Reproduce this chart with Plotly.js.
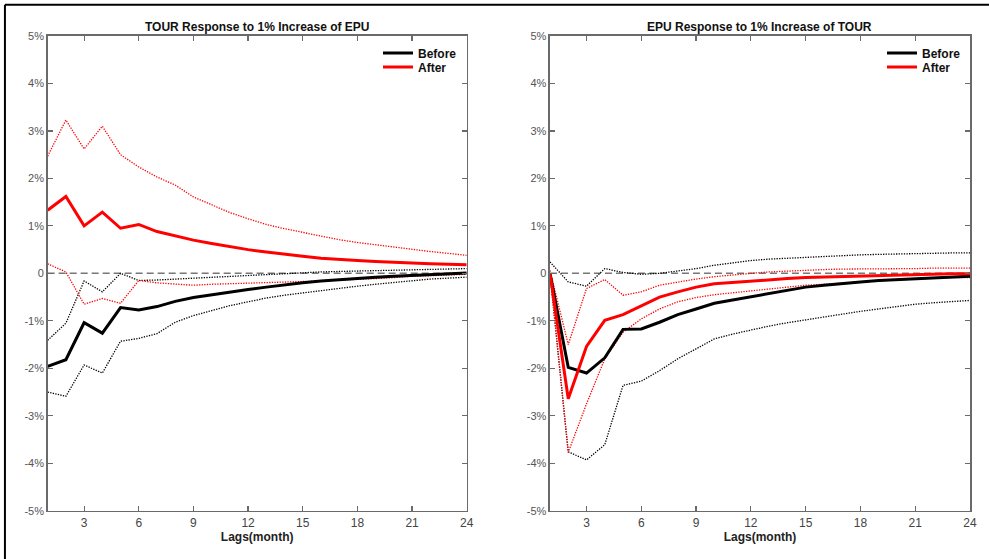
<!DOCTYPE html>
<html>
<head>
<meta charset="utf-8">
<script src="https://cdn.plot.ly/plotly-3.0.1.min.js"></script>
<style>html,body{margin:0;padding:0;background:#fff;}#chart{width:989px;height:559px;}</style>
</head>
<body>
<div id="chart"></div>
<script>
// Lags (months)
const lags = [1,2,3,4,5,6,7,8,9,10,11,12,13,14,15,16,17,18,19,20,21,22,23,24];

// Left panel: TOUR response to 1% increase of EPU (percent)
const beforeL   = [-1.96,-1.82,-1.04,-1.26,-0.72,-0.77,-0.70,-0.59,-0.51,-0.45,-0.39,-0.34,-0.29,-0.24,-0.20,-0.16,-0.13,-0.10,-0.08,-0.06,-0.04,-0.02,-0.01,0.01];
const beforeLUp = [-1.41,-1.05,-0.16,-0.39,0.00,-0.15,-0.14,-0.12,-0.10,-0.08,-0.06,-0.04,-0.02,0.00,0.01,0.03,0.04,0.05,0.06,0.07,0.08,0.09,0.10,0.10];
const beforeLLo = [-2.50,-2.59,-1.93,-2.10,-1.43,-1.37,-1.27,-1.03,-0.89,-0.78,-0.68,-0.60,-0.52,-0.46,-0.41,-0.36,-0.31,-0.27,-0.23,-0.19,-0.15,-0.12,-0.10,-0.08];
const afterL    = [1.33,1.62,1.00,1.29,0.95,1.03,0.88,0.79,0.70,0.63,0.56,0.50,0.45,0.40,0.36,0.32,0.29,0.27,0.25,0.23,0.21,0.20,0.19,0.18];
const afterLUp  = [2.47,3.23,2.62,3.10,2.50,2.24,2.03,1.86,1.61,1.44,1.28,1.15,1.03,0.94,0.86,0.78,0.71,0.65,0.60,0.55,0.50,0.46,0.42,0.38];
const afterLLo  = [0.20,0.03,-0.65,-0.53,-0.63,-0.15,-0.20,-0.23,-0.25,-0.23,-0.22,-0.20,-0.19,-0.18,-0.18,-0.16,-0.14,-0.13,-0.11,-0.09,-0.06,-0.05,-0.03,-0.02];

// Right panel: EPU response to 1% increase of TOUR (percent)
const beforeR   = [0.00,-1.98,-2.10,-1.78,-1.18,-1.17,-1.03,-0.87,-0.75,-0.63,-0.56,-0.49,-0.42,-0.35,-0.29,-0.25,-0.21,-0.18,-0.15,-0.13,-0.11,-0.09,-0.07,-0.06];
const beforeRUp = [0.24,-0.18,-0.27,0.10,0.02,-0.02,0.00,0.05,0.10,0.17,0.22,0.27,0.30,0.32,0.34,0.36,0.38,0.39,0.40,0.41,0.42,0.42,0.43,0.43];
const beforeRLo = [0.00,-3.76,-3.93,-3.61,-2.36,-2.27,-2.05,-1.80,-1.59,-1.38,-1.28,-1.19,-1.11,-1.04,-0.98,-0.91,-0.85,-0.80,-0.75,-0.70,-0.65,-0.62,-0.59,-0.57];
const afterR    = [0.00,-2.64,-1.54,-0.99,-0.87,-0.68,-0.50,-0.39,-0.29,-0.22,-0.19,-0.16,-0.13,-0.11,-0.09,-0.08,-0.06,-0.05,-0.04,-0.03,-0.02,-0.02,-0.01,-0.01];
const afterRUp  = [0.06,-1.50,-0.32,-0.13,-0.46,-0.39,-0.25,-0.18,-0.12,-0.07,-0.03,0.00,0.03,0.05,0.07,0.08,0.09,0.09,0.10,0.10,0.10,0.11,0.11,0.11];
const afterRLo  = [0.00,-3.77,-2.75,-1.80,-1.24,-0.96,-0.75,-0.60,-0.51,-0.45,-0.41,-0.37,-0.33,-0.29,-0.25,-0.23,-0.20,-0.18,-0.16,-0.14,-0.11,-0.10,-0.09,-0.09];

// Ticks and labels
const xTicks = [3,6,9,12,15,18,21,24];
const yTicks = [5,4,3,2,1,0,-1,-2,-3,-4,-5];
const yTickText = ['5%','4%','3%','2%','1%','0','-1%','-2%','-3%','-4%','-5%'];
const seriesNames = ['Before','After'];
const panelTitles = ['TOUR Response to 1% Increase of EPU','EPU Response to 1% Increase of TOUR'];
const xTitle = 'Lags(month)';

const BLACK = '#000000', RED = '#ff0000';
const FONT = 'Liberation Sans, Arial, sans-serif';

function solid(y, color, name, xa, ya, leg) {
  return {x: lags, y: y, type: 'scatter', mode: 'lines', name: name,
          line: {color: color, width: 3}, xaxis: xa, yaxis: ya, legend: leg, showlegend: true};
}
function dotted(y, color, xa, ya) {
  return {x: lags, y: y, type: 'scatter', mode: 'lines', showlegend: false, hoverinfo: 'skip',
          line: {color: color, width: 1.3, dash: '1.3px,1.3px'}, xaxis: xa, yaxis: ya};
}

const data = [
  dotted(beforeLUp, BLACK, 'x', 'y'), dotted(beforeLLo, BLACK, 'x', 'y'),
  dotted(afterLUp, RED, 'x', 'y'), dotted(afterLLo, RED, 'x', 'y'),
  solid(beforeL, BLACK, seriesNames[0], 'x', 'y', 'legend'),
  solid(afterL, RED, seriesNames[1], 'x', 'y', 'legend2'),
  dotted(beforeRUp, BLACK, 'x2', 'y2'), dotted(beforeRLo, BLACK, 'x2', 'y2'),
  dotted(afterRUp, RED, 'x2', 'y2'), dotted(afterRLo, RED, 'x2', 'y2'),
  solid(beforeR, BLACK, seriesNames[0], 'x2', 'y2', 'legend3'),
  solid(afterR, RED, seriesNames[1], 'x2', 'y2', 'legend4')
];

const AX_COLOR = '#6a6a6a';
function xAxis(domain, anchor) {
  return {domain: domain, anchor: anchor, range: [1, 24], tickmode: 'array', tickvals: xTicks,
          ticks: 'inside', ticklen: 5, tickwidth: 1.2, tickcolor: AX_COLOR,
          showline: true, linecolor: AX_COLOR, linewidth: 1.5, mirror: 'ticks',
          showgrid: false, zeroline: false,
          tickfont: {family: FONT, size: 12, color: '#444'},
          title: {text: xTitle, standoff: 4, font: {family: FONT, size: 12, color: '#222', weight: 'bold'}}};
}
function yAxis(domain, anchor) {
  return {domain: domain, anchor: anchor, range: [-5, 5], tickmode: 'array', tickvals: yTicks, ticktext: yTickText,
          ticks: 'inside', ticklen: 5, tickwidth: 1.2, tickcolor: AX_COLOR,
          showline: true, linecolor: AX_COLOR, linewidth: 1.5, mirror: 'ticks',
          showgrid: false, zeroline: false,
          tickfont: {family: FONT, size: 11, color: '#555'}};
}
const YD = [0.0864, 0.9356];

function legendAt(xl, yc) {
  return {x: xl, xanchor: 'left', y: yc, yanchor: 'middle', xref: 'paper', yref: 'paper',
          bgcolor: 'rgba(0,0,0,0)', borderwidth: 0, tracegroupgap: 0,
          font: {family: FONT, size: 12, color: '#111', weight: 'bold'}};
}

const layout = {
  width: 989, height: 559,
  margin: {l: 0, r: 0, t: 0, b: 0},
  paper_bgcolor: '#fff', plot_bgcolor: '#fff',
  showlegend: true,
  xaxis: xAxis([0.0482, 0.4719], 'y'),
  yaxis: yAxis(YD, 'x'),
  xaxis2: xAxis([0.5561, 0.9808], 'y2'),
  yaxis2: yAxis(YD, 'x2'),
  legend: legendAt(0.3822, 0.9052),
  legend2: legendAt(0.3822, 0.8801),
  legend3: legendAt(0.8918, 0.9052),
  legend4: legendAt(0.8918, 0.8801),
  shapes: [
    {type: 'line', xref: 'x domain', yref: 'y', x0: 0, x1: 1, y0: 0, y1: 0, line: {color: '#777', width: 1.5, dash: '7px,4px'}, layer: 'below'},
    {type: 'line', xref: 'x2 domain', yref: 'y2', x0: 0, x1: 1, y0: 0, y1: 0, line: {color: '#777', width: 1.5, dash: '7px,4px'}, layer: 'below'},
    {type: 'line', xref: 'paper', yref: 'paper', x0: 0.005, x1: 1, y0: 0.9915, y1: 0.9915, line: {color: '#000', width: 2}},
    {type: 'line', xref: 'paper', yref: 'paper', x0: 0.005, x1: 0.005, y0: 0, y1: 0.9915, line: {color: '#000', width: 2}}
  ],
  annotations: [
    {text: panelTitles[0], xref: 'x domain', yref: 'paper', x: 0.5, y: 0.9517, xanchor: 'center', yanchor: 'middle', showarrow: false,
     font: {family: FONT, size: 12, color: '#111', weight: 'bold'}},
    {text: panelTitles[1], xref: 'x2 domain', yref: 'paper', x: 0.5, y: 0.9517, xanchor: 'center', yanchor: 'middle', showarrow: false,
     font: {family: FONT, size: 12, color: '#111', weight: 'bold'}}
  ]
};

Plotly.newPlot('chart', data, layout, {displayModeBar: false, staticPlot: true});
</script>
</body>
</html>
